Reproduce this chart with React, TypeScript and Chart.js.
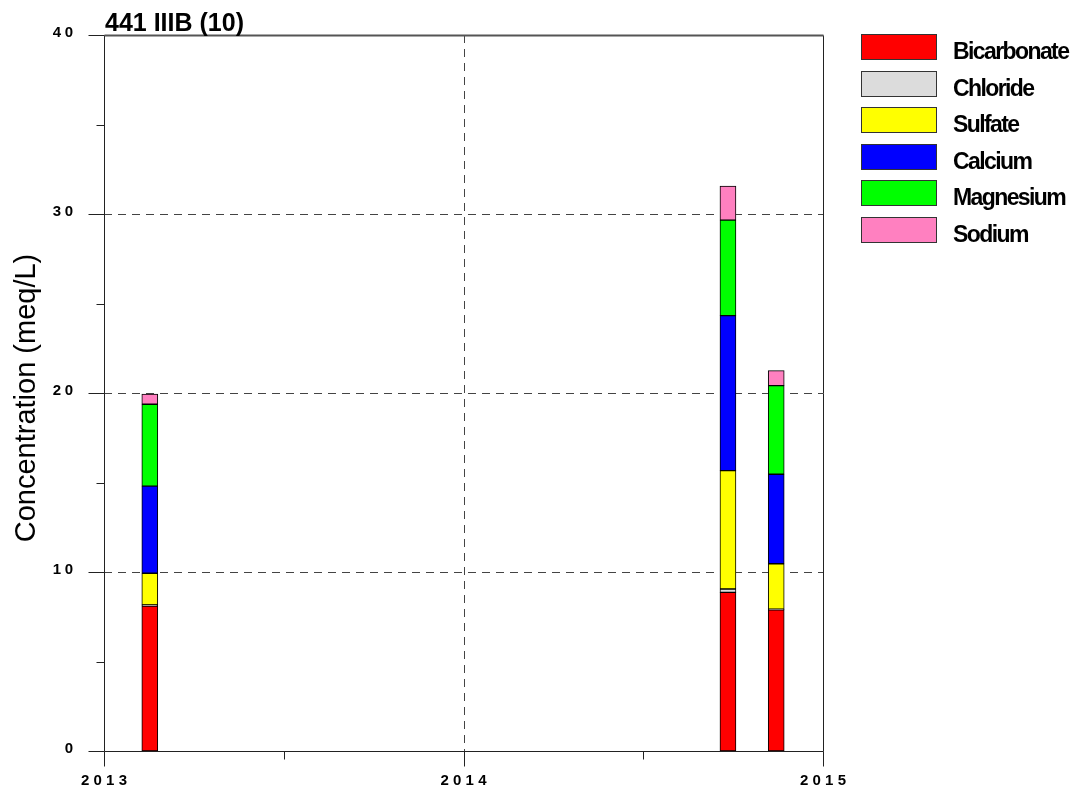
import { useEffect, useRef } from 'react';
import { Chart, registerables } from 'chart.js';

Chart.register(...registerables);

const TITLE = '441 IIIB (10)';
const Y_TITLE = 'Concentration (meq/L)';
const SAMPLE_DATES = ['2013-02-16', '2014-09-26', '2014-11-14'];
const BICARBONATE = [8.1, 8.86, 7.88];
const CHLORIDE = [0.06, 0.19, 0.05];
const SULFATE = [1.77, 6.61, 2.53];
const CALCIUM = [4.87, 8.66, 5.0];
const MAGNESIUM = [4.57, 5.34, 4.95];
const SODIUM = [0.57, 1.9, 0.84];
const SERIES_NAMES = ['Bicarbonate', 'Chloride', 'Sulfate', 'Calcium', 'Magnesium', 'Sodium'];
const SERIES_COLORS = ['#ff0000', '#dcdcdc', '#ffff00', '#0000ff', '#00ff00', '#ff80c0'];
const X_TICKS = [2013, 2014, 2015];
const X_MINOR = [2013.5, 2014.5];
const Y_TICKS = [0, 10, 20, 30, 40];
const Y_MINOR = [5, 15, 25, 35];

const FONT = '"Liberation Sans", Arial, sans-serif';

function toDecimalYear(s: string): number {
  const [yy, mm, dd] = s.split('-').map(Number);
  const start = Date.UTC(yy, 0, 1);
  const day = (Date.UTC(yy, mm - 1, dd) - start) / 86400000;
  return yy + (day + 0.5) / 365;
}

function drawSpaced(ctx: CanvasRenderingContext2D, text: string, x: number, y: number, align: string, spacing: number) {
  const chars = text.split('');
  const widths = chars.map((c) => ctx.measureText(c).width);
  const total = widths.reduce((a, b) => a + b, 0) + spacing * (chars.length - 1);
  let pos = align === 'center' ? x - total / 2 : align === 'right' ? x - total : x;
  ctx.textAlign = 'left';
  chars.forEach((c, i) => {
    ctx.fillText(c, pos, y);
    pos += widths[i] + spacing;
  });
}

function seg(ctx: CanvasRenderingContext2D, x1: number, y1: number, x2: number, y2: number) {
  ctx.beginPath();
  ctx.moveTo(x1, y1);
  ctx.lineTo(x2, y2);
  ctx.stroke();
}

const px = (v: number) => Math.round(v) + 0.5;

const decorPlugin = {
  id: 'decor',
  beforeDatasetsDraw(chart: any) {
    const { ctx, chartArea: a, scales } = chart;
    const x = scales.x;
    const y = scales.y;
    ctx.save();
    ctx.strokeStyle = '#444';
    ctx.lineWidth = 1;
    ctx.setLineDash([8, 6]);
    Y_TICKS.filter((v) => v > y.min && v < y.max).forEach((v) => {
      const py = px(y.getPixelForValue(v));
      seg(ctx, a.left, py, a.right, py);
    });
    X_TICKS.filter((v) => v > x.min && v < x.max).forEach((v) => {
      const pxx = px(x.getPixelForValue(v));
      seg(ctx, pxx, a.top, pxx, a.bottom);
    });
    ctx.restore();
  },
  afterDatasetsDraw(chart: any) {
    const { ctx, chartArea: a, scales } = chart;
    const x = scales.x;
    const y = scales.y;
    ctx.save();
    ctx.setLineDash([]);
    const L = px(a.left);
    const R = px(a.right);
    const T = px(a.top);
    const B = px(a.bottom);
    // frame
    ctx.strokeStyle = '#222';
    ctx.lineWidth = 1;
    seg(ctx, L, T, L, B);
    seg(ctx, L, B, R, B);
    seg(ctx, R, T, R, B);
    ctx.strokeStyle = '#555';
    ctx.lineWidth = 2;
    seg(ctx, L, T, R, T);
    ctx.lineWidth = 1;
    ctx.strokeStyle = '#222';
    // y ticks
    Y_TICKS.forEach((v) => {
      const py = px(y.getPixelForValue(v));
      seg(ctx, L - 16, py, L, py);
    });
    Y_MINOR.forEach((v) => {
      const py = px(y.getPixelForValue(v));
      seg(ctx, L - 8, py, L, py);
    });
    // x ticks
    X_TICKS.forEach((v) => {
      const pxx = px(x.getPixelForValue(v));
      seg(ctx, pxx, B, pxx, B + 15);
    });
    X_MINOR.forEach((v) => {
      const pxx = px(x.getPixelForValue(v));
      seg(ctx, pxx, B, pxx, B + 8);
    });
    // tick labels
    ctx.fillStyle = '#000';
    ctx.font = `bold 15px ${FONT}`;
    ctx.textBaseline = 'middle';
    Y_TICKS.forEach((v) => {
      const py = y.getPixelForValue(v);
      drawSpaced(ctx, String(v), 73, py - 2, 'right', 3.5);
    });
    X_TICKS.forEach((v) => {
      const pxx = x.getPixelForValue(v);
      drawSpaced(ctx, String(v), pxx, a.bottom + 30, 'center', 4.2);
    });
    // title
    ctx.textBaseline = 'alphabetic';
    ctx.textAlign = 'left';
    ctx.font = `bold 25px ${FONT}`;
    ctx.fillText(TITLE, a.left + 1, 31);
    // y axis title
    ctx.save();
    ctx.translate(35, (a.top + a.bottom) / 2 + 5);
    ctx.rotate(-Math.PI / 2);
    ctx.textAlign = 'center';
    ctx.font = `29px ${FONT}`;
    ctx.fillText(Y_TITLE, 0, 0);
    ctx.restore();
    // legend
    chart.data.datasets.forEach((ds: any, i: number) => {
      const top = Math.round(34 + i * 36.6);
      const bx = 861;
      ctx.fillStyle = ds.backgroundColor;
      ctx.fillRect(bx, top, 76, 26);
      ctx.strokeStyle = '#333';
      ctx.lineWidth = 1;
      ctx.strokeRect(bx + 0.5, top + 0.5, 75, 25);
      ctx.fillStyle = '#000';
      ctx.font = `bold 23px ${FONT}`;
      ctx.textBaseline = 'alphabetic';
      drawSpaced(ctx, ds.label, 953, top + 25, 'left', -1.6);
    });
    ctx.restore();
  },
};

export default function App() {
  const canvasRef = useRef<HTMLCanvasElement | null>(null);

  useEffect(() => {
    if (!canvasRef.current) return;
    const xs = SAMPLE_DATES.map(toDecimalYear);
    const seriesValues = [BICARBONATE, CHLORIDE, SULFATE, CALCIUM, MAGNESIUM, SODIUM];
    const chart = new Chart(canvasRef.current, {
      type: 'bar',
      data: {
        datasets: seriesValues.map((vals, i) => ({
          label: SERIES_NAMES[i],
          data: vals.map((v, j) => ({ x: xs[j], y: v })),
          backgroundColor: SERIES_COLORS[i],
          borderColor: '#000',
          borderWidth: 1,
          borderSkipped: false,
          barThickness: 16,
        })),
      },
      options: {
        animation: false,
        responsive: true,
        maintainAspectRatio: false,
        layout: { padding: { left: 104, top: 35, right: 261, bottom: 40 } },
        plugins: {
          legend: { display: false },
          tooltip: { enabled: false },
          title: { display: false },
        },
        scales: {
          x: { type: 'linear', min: 2013, max: 2015, stacked: true, display: false, offset: false },
          y: { type: 'linear', min: 0, max: 40, stacked: true, display: false },
        },
      },
      plugins: [decorPlugin],
    } as any);
    return () => chart.destroy();
  }, []);

  return (
    <div style={{ position: 'absolute', left: 0, top: 0, width: 1084, height: 791, background: '#fff' }}>
      <canvas ref={canvasRef} />
    </div>
  );
}
